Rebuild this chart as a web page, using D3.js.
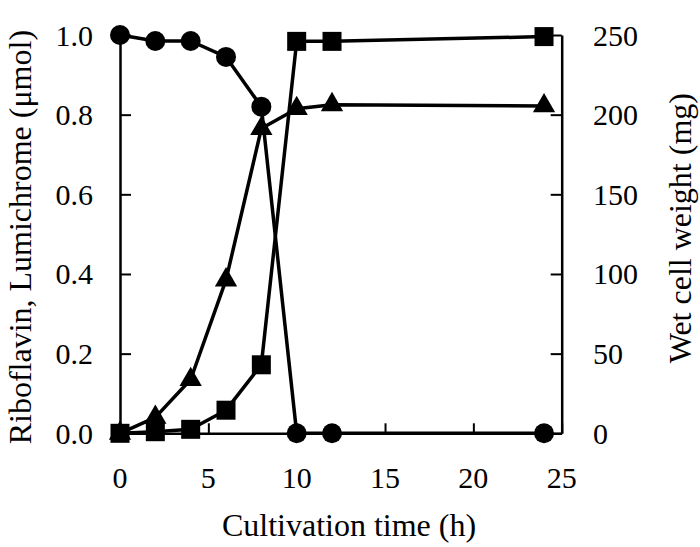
<!DOCTYPE html>
<html>
<head>
<meta charset="utf-8">
<script src="https://cdn.jsdelivr.net/npm/d3@7"></script>
</head>
<body style="margin:0;background:#fff">
<svg id="chart" width="700" height="547" style="display:block"></svg>
<script>
// ---- data ----
const time = [0, 2, 4, 6, 8, 10, 12, 24];
const riboflavin = [1.0, 0.985, 0.985, 0.945, 0.82, 0, 0, 0];       // circles, left axis (µmol)
const lumichrome = [0, 0.04, 0.135, 0.385, 0.765, 0.815, 0.825, 0.822]; // triangles, left axis (µmol)
const wetCell = [0, 1, 2.5, 14.5, 43, 246, 246, 249];               // squares, right axis (mg)
const xTicks = [0, 5, 10, 15, 20, 25];
const yLeftTicks = [0, 0.2, 0.4, 0.6, 0.8, 1.0];
const yRightTicks = [0, 50, 100, 150, 200, 250];
const xTitle = "Cultivation time (h)";
const yLeftTitle = "Riboflavin, Lumichrome (μmol)";
const yRightTitle = "Wet cell weight (mg)";

// ---- layout ----
const FONT = "'Liberation Serif', monospace";
const FS = 30, FT = 32;
const svg = d3.select("#chart");
const L = 120, R = 561.7, T = 35, B = 433.3;
const x = d3.scaleLinear().domain([0, 25]).range([L, R]);
const yL = d3.scaleLinear().domain([0, 1]).range([B, T]);
const yR = d3.scaleLinear().domain([0, 250]).range([B, T]);

// axes (lines and ticks from d3.axis; labels drawn as plain text below)
const gx = svg.append("g").attr("transform", `translate(0,${B})`)
  .call(d3.axisBottom(x).tickValues(xTicks).tickFormat("")
    .tickSizeInner(-10).tickSizeOuter(0));
const gl = svg.append("g").attr("transform", `translate(${L},0)`)
  .call(d3.axisLeft(yL).tickValues(yLeftTicks).tickFormat("")
    .tickSizeInner(-11).tickSizeOuter(0));
const gr = svg.append("g").attr("transform", `translate(${R},0)`)
  .call(d3.axisRight(yR).tickValues(yRightTicks).tickFormat("")
    .tickSizeInner(-11).tickSizeOuter(0));

[gx, gl, gr].forEach(g => {
  g.selectAll(".tick text").remove();
  g.select(".domain").attr("stroke", "#000").attr("stroke-width", 2.5);
  g.selectAll(".tick line").attr("stroke", "#000").attr("stroke-width", 2);
});

// tick labels
const fmtL = d3.format(".1f"), fmtD = d3.format("d");
svg.append("g").selectAll("text").data(xTicks).join("text")
  .attr("x", d => x(d)).attr("y", 488).attr("text-anchor", "middle")
  .style("font-family", FONT).attr("font-size", FS).attr("fill", "#000").text(fmtD);
svg.append("g").selectAll("text").data(yLeftTicks).join("text")
  .attr("x", 93).attr("y", d => yL(d) + 10.5).attr("text-anchor", "end")
  .style("font-family", FONT).attr("font-size", FS).attr("fill", "#000").text(fmtL);
svg.append("g").selectAll("text").data(yRightTicks).join("text")
  .attr("x", 593).attr("y", d => yR(d) + 10.5).attr("text-anchor", "start")
  .style("font-family", FONT).attr("font-size", FS).attr("fill", "#000").text(fmtD);

// axis titles
svg.append("text").attr("x", 349).attr("y", 536).attr("text-anchor", "middle")
  .style("font-family", FONT).attr("font-size", FT).attr("fill", "#000").text(xTitle);
svg.append("text").attr("transform", `translate(31,${(T + B) / 2 + 3}) rotate(-90)`)
  .style("font-family", FONT).attr("text-anchor", "middle").attr("font-size", FT).attr("fill", "#000").text(yLeftTitle);
svg.append("text").attr("transform", `translate(691,${(T + B) / 2 - 6}) rotate(-90)`)
  .style("font-family", FONT).attr("text-anchor", "middle").attr("font-size", FT).attr("fill", "#000").text(yRightTitle);

// series
const series = [
  { vals: riboflavin, y: yL, sym: "circle" },
  { vals: lumichrome, y: yL, sym: "triangle" },
  { vals: wetCell, y: yR, sym: "square" }
];

const lineGen = (ys) => d3.line().x(d => x(d[0])).y(d => ys(d[1]));

series.forEach(s => {
  const pts = time.map((t, i) => [t, s.vals[i]]);
  svg.append("path").datum(pts)
    .attr("d", lineGen(s.y))
    .attr("fill", "none").attr("stroke", "#000").attr("stroke-width", 3.5)
    .attr("stroke-linejoin", "round");
});

series.forEach(s => {
  const pts = time.map((t, i) => [t, s.vals[i]]);
  const g = svg.append("g");
  if (s.sym === "circle") {
    g.selectAll("circle").data(pts).join("circle")
      .attr("cx", d => x(d[0])).attr("cy", d => s.y(d[1])).attr("r", 10).attr("fill", "#000");
  } else if (s.sym === "square") {
    const a = 19;
    g.selectAll("rect").data(pts).join("rect")
      .attr("x", d => x(d[0]) - a / 2).attr("y", d => s.y(d[1]) - a / 2)
      .attr("width", a).attr("height", a).attr("fill", "#000");
  } else {
    const tri = d3.symbol().type(d3.symbolTriangle).size(215);
    g.selectAll("path").data(pts).join("path")
      .attr("transform", d => `translate(${x(d[0])},${s.y(d[1])})`)
      .attr("d", tri).attr("fill", "#000");
  }
});
</script>
</body>
</html>
